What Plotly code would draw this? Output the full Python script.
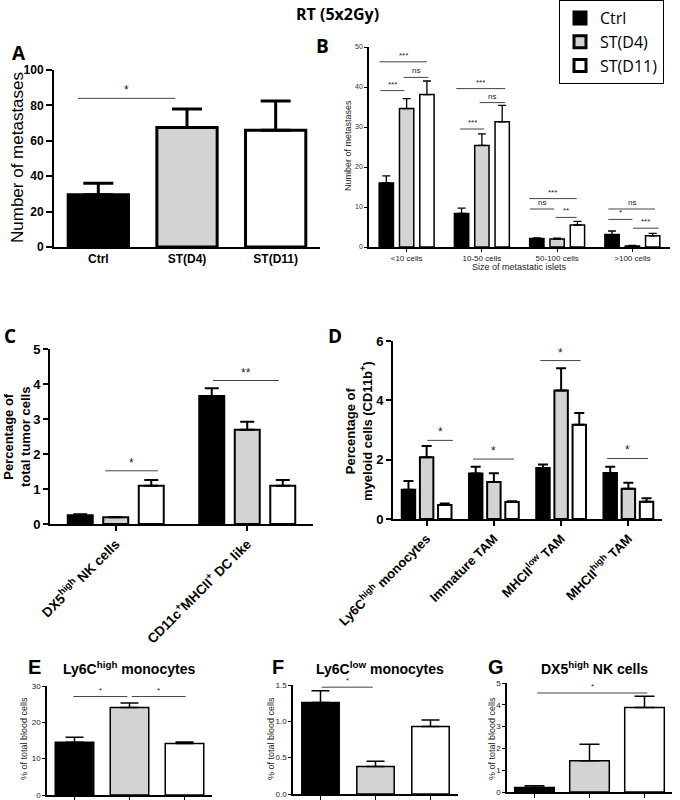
import plotly.graph_objects as go

# ---------------- data ----------------
groups = ["Ctrl", "ST(D4)", "ST(D11)"]
fills = ["#000000", "#d3d3d3", "#ffffff"]

# Panel A
A_cats = ["Ctrl", "ST(D4)", "ST(D11)"]
A_mean = [29.5, 67.5, 66.0]
A_sem = [6.5, 10.5, 16.5]
A_sig = [(-0.23, 0.87, 84, "*")]

# Panel B
B_cats = ["<10 cells", "10-50 cells", "50-100 cells", ">100 cells"]
B_ctrl = [16.0, 8.4, 2.1, 3.1]
B_ctrl_sem = [1.8, 1.3, 0.2, 0.9]
B_d4 = [34.6, 25.4, 2.0, 0.25]
B_d4_sem = [2.5, 2.9, 0.2, 0.15]
B_d11 = [38.1, 31.3, 5.5, 2.8]
B_d11_sem = [3.4, 4.1, 0.9, 0.6]
B_sig = [(-0.36, 0.27, 46.3, "***"), (-0.35, -0.03, 39.1, "***"), (-0.04, 0.29, 42.4, "ns"),
         (0.66, 1.31, 39.6, "***"), (0.97, 1.31, 36.1, "ns"), (0.71, 1.03, 29.5, "***"),
         (1.63, 2.26, 12.1, "***"), (1.64, 1.96, 9.5, "ns"), (1.98, 2.26, 7.4, "**"),
         (2.68, 3.30, 9.5, "ns"), (2.68, 3.00, 6.9, "*"), (3.01, 3.35, 4.7, "***")]

# Panel C
C_cats = ["DX5<sup>high</sup> NK cells", "CD11c<sup>+</sup>MHCII<sup>+</sup> DC like"]
C_ctrl = [0.25, 3.66]
C_ctrl_sem = [0.03, 0.22]
C_d4 = [0.19, 2.69]
C_d4_sem = [0.01, 0.23]
C_d11 = [1.09, 1.09]
C_d11_sem = [0.17, 0.17]
C_sig = [(-0.08, 0.32, 1.52, "*"), (0.74, 1.24, 4.1, "**")]

# Panel D
D_cats = ["Ly6C<sup>high</sup> monocytes", "Immature TAM", "MHCII<sup>low</sup> TAM", "MHCII<sup>high</sup> TAM"]
D_ctrl = [0.99, 1.53, 1.72, 1.55]
D_ctrl_sem = [0.29, 0.23, 0.12, 0.21]
D_d4 = [2.08, 1.25, 4.33, 1.02]
D_d4_sem = [0.38, 0.29, 0.75, 0.20]
D_d11 = [0.47, 0.57, 3.18, 0.58]
D_d11_sem = [0.05, 0.03, 0.39, 0.12]
D_sig = [(0.01, 0.39, 2.65, "*"), (0.69, 1.30, 2.02, "*"), (1.69, 2.29, 5.34, "*"), (2.68, 3.29, 2.04, "*")]

# Panels E, F, G
E_mean = [14.5, 24.1, 14.2]
E_sem = [1.4, 1.2, 0.4]
E_sig = [(-0.02, 0.96, 27.1, "*"), (1.04, 2.02, 27.1, "*")]
F_mean = [1.26, 0.38, 0.93]
F_sem = [0.16, 0.07, 0.09]
F_sig = [(0.02, 0.95, 1.47, "*")]
G_mean = [0.21, 1.43, 3.88]
G_sem = [0.08, 0.76, 0.51]
G_sig = [(0.05, 2.05, 4.54, "*")]

W, H = 680, 800
ARIAL = "Liberation Sans, Arial, sans-serif"
CAL = "Open Sans, sans-serif"


def px(x):
    return x / W


def py(y):
    return 1 - y / H


fig = go.Figure()
shapes = []
annotations = []


def axname(i):
    return ("x", "y") if i == 1 else (f"x{i}", f"y{i}")


def add_sig(i, sig, fsize, lift):
    xr, yr = axname(i)
    for x0, x1, y, lab in sig:
        shapes.append(dict(type="line", xref=xr, yref=yr, x0=x0, x1=x1, y0=y, y1=y,
                           line=dict(color="#444", width=1)))
        annotations.append(dict(xref=xr, yref=yr, x=(x0 + x1) / 2, y=y, text=lab, showarrow=False,
                                yanchor="bottom", yshift=lift,
                                font=dict(family=ARIAL, size=fsize, color="#222")))


def single_panel(i, means, sems, width, lw, ew, et, legend=False):
    xr, yr = axname(i)
    for k in range(3):
        fig.add_trace(go.Bar(
            x=[k], y=[means[k]], width=width, offset=-width / 2, xaxis=xr, yaxis=yr,
            name=groups[k], showlegend=legend, legendgroup=groups[k],
            marker=dict(color=fills[k], line=dict(color="black", width=lw)),
            error_y=dict(type="data", symmetric=False, array=[sems[k]], arrayminus=[0],
                         color="black", thickness=et, width=ew)))


def grouped_panel(i, series, sems, spacing, width, lw, ew, et):
    xr, yr = axname(i)
    for k in range(3):
        n = len(series[k])
        fig.add_trace(go.Bar(
            x=list(range(n)), y=series[k], width=width, offset=(k - 1) * spacing - width / 2,
            xaxis=xr, yaxis=yr, name=groups[k], showlegend=False, legendgroup=groups[k],
            marker=dict(color=fills[k], line=dict(color="black", width=lw)),
            error_y=dict(type="data", symmetric=False, array=sems[k], arrayminus=[0] * n,
                         color="black", thickness=et, width=ew)))


# ---- A ----
single_panel(1, A_mean, A_sem, 0.68, 3, 15, 3, legend=True)
add_sig(1, A_sig, 12, -1)
# ---- B ----
grouped_panel(2, [B_ctrl, B_d4, B_d11], [B_ctrl_sem, B_d4_sem, B_d11_sem], 0.27, 0.19, 1.5, 4, 1.3)
add_sig(2, B_sig, 8, 0)
# ---- C ----
grouped_panel(3, [C_ctrl, C_d4, C_d11], [C_ctrl_sem, C_d4_sem, C_d11_sem], 0.27, 0.19, 2, 7, 2)
add_sig(3, C_sig, 12, -1)
# ---- D ----
grouped_panel(4, [D_ctrl, D_d4, D_d11], [D_ctrl_sem, D_d4_sem, D_d11_sem], 0.27, 0.2, 2, 5, 2)
add_sig(4, D_sig, 12, -1)
# ---- E F G ----
single_panel(5, E_mean, E_sem, 0.7, 1.5, 9, 1.5)
add_sig(5, E_sig, 8, 0)
single_panel(6, F_mean, F_sem, 0.68, 1.5, 9, 1.5)
add_sig(6, F_sig, 8, 0)
single_panel(7, G_mean, G_sem, 0.72, 1.5, 10, 1.5)
add_sig(7, G_sig, 8, 0)

layout = dict(
    width=W, height=H, margin=dict(l=0, r=0, t=0, b=0), template="none",
    paper_bgcolor="white", plot_bgcolor="rgba(0,0,0,0)", barmode="overlay",
    font=dict(family=ARIAL, color="black"),
    showlegend=True,
    legend=dict(x=px(559), y=1.0, xanchor="left", yanchor="top", bordercolor="black", borderwidth=1,
                bgcolor="white", font=dict(family=CAL, size=16), tracegroupgap=0,
                itemclick=False),
)


def xaxis_cfg(d0, d1, anchor, n, ticktext, lw, tickfont, ticks="", ticklen=0, tw=1, angle=0, labels=True):
    return dict(domain=[px(d0), px(d1)], anchor=anchor, range=[-0.5, n - 0.5],
                tickvals=list(range(n)), ticktext=ticktext, showline=True, linecolor="black",
                linewidth=lw, ticks=ticks, ticklen=ticklen, tickwidth=tw, tickcolor="black",
                showgrid=False, zeroline=False, tickfont=tickfont, tickangle=angle,
                showticklabels=labels, automargin=False, fixedrange=True)


def yaxis_cfg(top, bottom, anchor, rng, dtick, lw, tickfont, ticklen=5, tw=1, tickformat=None):
    d = dict(domain=[py(bottom), py(top)], anchor=anchor, range=rng, dtick=dtick, showline=True,
             linecolor="black", linewidth=lw, ticks="outside", ticklen=ticklen, tickwidth=tw,
             tickcolor="black", showgrid=False, zeroline=False, tickfont=tickfont,
             automargin=False, fixedrange=True)
    if tickformat:
        d["tickformat"] = tickformat
    return d


def boldA(s):
    return dict(family=ARIAL, size=s, weight="bold", color="black")


# A
layout["xaxis"] = xaxis_cfg(54, 320, "y", 3, A_cats, 2, boldA(12))
layout["yaxis"] = yaxis_cfg(70, 247, "x", [0, 100], 20, 2, boldA(12), ticklen=6, tw=2)
# B
layout["xaxis2"] = xaxis_cfg(369, 670, "y2", 4, B_cats, 1.5, dict(family=ARIAL, size=8, color="#222"),
                             ticks="outside", ticklen=3, tw=1)
layout["yaxis2"] = yaxis_cfg(47, 247, "x2", [0, 50], 10, 1.5, dict(family=ARIAL, size=7, color="#333"),
                             ticklen=3)
# C
layout["xaxis3"] = xaxis_cfg(50, 313, "y3", 2, C_cats, 2, boldA(13.5), ticks="outside", ticklen=5, tw=2,
                             angle=-45)
layout["yaxis3"] = yaxis_cfg(349, 524, "x3", [0, 5], 1, 2, boldA(13), ticklen=5, tw=2)
# D
layout["xaxis4"] = xaxis_cfg(393, 662, "y4", 4, D_cats, 2, boldA(13), ticks="outside", ticklen=5, tw=2,
                             angle=-45)
layout["yaxis4"] = yaxis_cfg(341, 519, "x4", [0, 6], 2, 2, boldA(13), ticklen=5, tw=2)
# E F G
small_tick = dict(family=ARIAL, size=8, color="#222")
small_title = dict(family=ARIAL, size=9, color="#222")
layout["xaxis5"] = xaxis_cfg(47, 212, "y5", 3, ["", "", ""], 1.5, small_tick, ticks="outside", ticklen=4,
                             labels=False)
layout["yaxis5"] = yaxis_cfg(686, 795, "x5", [0, 30], 10, 1.5, small_tick, ticklen=3)
layout["xaxis6"] = xaxis_cfg(293, 458, "y6", 3, ["", "", ""], 1.5, small_tick, ticks="outside", ticklen=4,
                             labels=False)
layout["yaxis6"] = yaxis_cfg(685, 794, "x6", [0, 1.5], 0.5, 1.5, small_tick, ticklen=3, tickformat=".1f")
layout["xaxis7"] = xaxis_cfg(507, 672, "y7", 3, ["", "", ""], 1.5, small_tick, ticks="outside", ticklen=4,
                             labels=False)
layout["yaxis7"] = yaxis_cfg(683, 792, "x7", [0, 5], 1, 1.5, small_tick, ticklen=3)


# Title, panel letters, subtitles, axis titles
def paper_text(x, y, text, font, angle=0):
    annotations.append(dict(xref="paper", yref="paper", x=px(x), y=py(y), text=text, showarrow=False,
                            xanchor="center", yanchor="middle", font=font, textangle=angle))


paper_text(337, 14, "RT (5x2Gy)", dict(family=CAL, size=16, weight="bold"))
for lab, x, y in [("A", 19, 53), ("B", 322, 46), ("C", 10, 336), ("D", 335, 336)]:
    paper_text(x, y, lab, dict(family=CAL, size=19, weight="bold"))
for lab, x, y in [("E", 34, 667), ("F", 278, 667), ("G", 496, 667)]:
    paper_text(x, y, lab, boldA(20))
paper_text(129, 668, "Ly6C<sup>high</sup> monocytes", boldA(14))
paper_text(380, 668, "Ly6C<sup>low</sup> monocytes", boldA(14))
paper_text(594, 668, "DX5<sup>high</sup> NK cells", boldA(14))

paper_text(17, 158, "Number of metastases", dict(family=ARIAL, size=17), angle=-90)
paper_text(348, 146, "Number of metastases", dict(family=ARIAL, size=9, color="#222"), angle=-90)
paper_text(519, 267, "Size of metastatic islets", dict(family=ARIAL, size=9, color="#222"))
paper_text(17, 437, "Percentage of<br>total tumor cells", boldA(13), angle=-90)
paper_text(359, 431, "Percentage of<br>myeloid cells (CD11b<sup>+</sup>)", boldA(13), angle=-90)
paper_text(24, 739, "% of total blood cells", small_title, angle=-90)
paper_text(271, 739, "% of total blood cells", small_title, angle=-90)
paper_text(492, 739, "% of total blood cells", small_title, angle=-90)

layout["shapes"] = shapes
layout["annotations"] = annotations
fig.update_layout(**layout)
fig.write_html("out.html", config={"displayModeBar": False},
               post_script="document.body.style.margin='0px';document.body.style.padding='0px';")
